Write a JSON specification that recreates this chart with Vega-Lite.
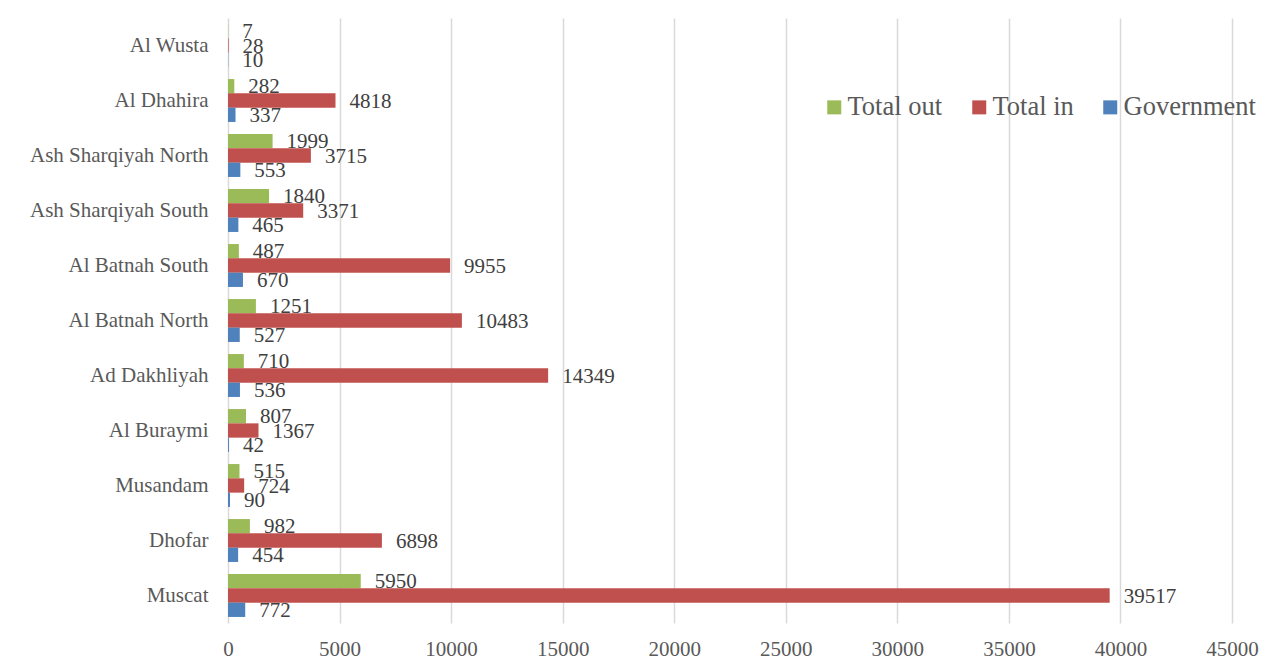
{
  "$schema": "https://vega.github.io/schema/vega-lite/v6.json",
  "autosize": {"type": "none"},
  "width": 1004,
  "height": 605,
  "padding": {"left": 228, "top": 18, "right": 43, "bottom": 37},
  "background": "white",
  "config": {
    "font": "Liberation Serif",
    "view": {"stroke": null}
  },
  "data": {
    "values": [
      {"Region": "Muscat", "Series": "Total out", "Value": 5950},
      {"Region": "Muscat", "Series": "Total in", "Value": 39517},
      {"Region": "Muscat", "Series": "Government", "Value": 772},
      {"Region": "Dhofar", "Series": "Total out", "Value": 982},
      {"Region": "Dhofar", "Series": "Total in", "Value": 6898},
      {"Region": "Dhofar", "Series": "Government", "Value": 454},
      {"Region": "Musandam", "Series": "Total out", "Value": 515},
      {"Region": "Musandam", "Series": "Total in", "Value": 724},
      {"Region": "Musandam", "Series": "Government", "Value": 90},
      {"Region": "Al Buraymi", "Series": "Total out", "Value": 807},
      {"Region": "Al Buraymi", "Series": "Total in", "Value": 1367},
      {"Region": "Al Buraymi", "Series": "Government", "Value": 42},
      {"Region": "Ad Dakhliyah", "Series": "Total out", "Value": 710},
      {"Region": "Ad Dakhliyah", "Series": "Total in", "Value": 14349},
      {"Region": "Ad Dakhliyah", "Series": "Government", "Value": 536},
      {"Region": "Al Batnah North", "Series": "Total out", "Value": 1251},
      {"Region": "Al Batnah North", "Series": "Total in", "Value": 10483},
      {"Region": "Al Batnah North", "Series": "Government", "Value": 527},
      {"Region": "Al Batnah South", "Series": "Total out", "Value": 487},
      {"Region": "Al Batnah South", "Series": "Total in", "Value": 9955},
      {"Region": "Al Batnah South", "Series": "Government", "Value": 670},
      {"Region": "Ash Sharqiyah South", "Series": "Total out", "Value": 1840},
      {"Region": "Ash Sharqiyah South", "Series": "Total in", "Value": 3371},
      {"Region": "Ash Sharqiyah South", "Series": "Government", "Value": 465},
      {"Region": "Ash Sharqiyah North", "Series": "Total out", "Value": 1999},
      {"Region": "Ash Sharqiyah North", "Series": "Total in", "Value": 3715},
      {"Region": "Ash Sharqiyah North", "Series": "Government", "Value": 553},
      {"Region": "Al Dhahira", "Series": "Total out", "Value": 282},
      {"Region": "Al Dhahira", "Series": "Total in", "Value": 4818},
      {"Region": "Al Dhahira", "Series": "Government", "Value": 337},
      {"Region": "Al Wusta", "Series": "Total out", "Value": 7},
      {"Region": "Al Wusta", "Series": "Total in", "Value": 28},
      {"Region": "Al Wusta", "Series": "Government", "Value": 10}
    ]
  },
  "encoding": {
    "y": {
      "field": "Region",
      "type": "nominal",
      "sort": ["Al Wusta", "Al Dhahira", "Ash Sharqiyah North", "Ash Sharqiyah South", "Al Batnah South", "Al Batnah North", "Ad Dakhliyah", "Al Buraymi", "Musandam", "Dhofar", "Muscat"],
      "scale": {"paddingInner": 0.22, "paddingOuter": 0.11},
      "axis": {
        "title": null,
        "domain": false,
        "ticks": false,
        "labelFont": "Liberation Serif",
        "labelFontSize": 21,
        "labelColor": "#595959",
        "labelPadding": 20
      }
    },
    "yOffset": {
      "field": "Series",
      "type": "nominal",
      "sort": ["Total out", "Total in", "Government"],
      "scale": {"paddingInner": 0, "paddingOuter": 0}
    },
    "x": {
      "field": "Value",
      "type": "quantitative",
      "scale": {"domain": [0, 45000], "nice": false},
      "axis": {
        "title": null,
        "values": [0, 5000, 10000, 15000, 20000, 25000, 30000, 35000, 40000, 45000],
        "format": "d",
        "domain": false,
        "ticks": false,
        "grid": true,
        "gridColor": "#d9d9d9",
        "gridWidth": 1.5,
        "labelFlush": false,
        "labelFont": "Liberation Serif",
        "labelFontSize": 21,
        "labelColor": "#595959",
        "labelPadding": 15
      }
    }
  },
  "layer": [
    {
      "mark": {"type": "bar"},
      "encoding": {
        "color": {
          "field": "Series",
          "type": "nominal",
          "scale": {
            "domain": ["Total out", "Total in", "Government"],
            "range": ["#9BBB59", "#C0504D", "#4F81BD"]
          },
          "legend": {
            "title": null,
            "orient": "none",
            "direction": "horizontal",
            "legendX": 593,
            "legendY": 76,
            "padding": 0,
            "symbolType": "square",
            "symbolSize": 196,
            "symbolStrokeWidth": 0,
            "labelFont": "Liberation Serif",
            "labelFontSize": 26.5,
            "labelColor": "#595959",
            "labelOffset": 0,
            "columnPadding": 23
          }
        }
      }
    },
    {
      "mark": {"type": "text", "align": "left", "baseline": "middle", "dx": 14, "dy": 1, "font": "Liberation Serif", "fontSize": 21, "color": "#404040"},
      "encoding": {
        "text": {"field": "Value", "type": "quantitative", "format": "d"}
      }
    }
  ]
}
